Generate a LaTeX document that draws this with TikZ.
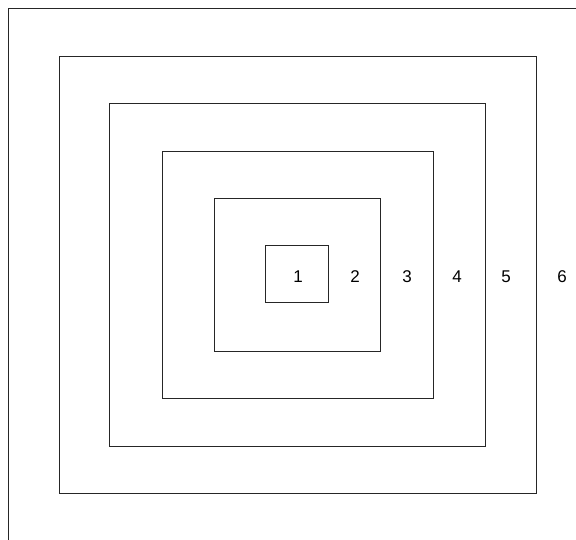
\documentclass[tikz,border=0pt]{standalone}
\usepackage{fontspec}
\setmainfont{Liberation Sans}
\begin{document}
\begin{tikzpicture}[x=1pt,y=-1pt,
  frame/.style={draw=black!85,line width=1pt},
  lab/.style={font=\fontsize{17}{20}\selectfont,inner sep=0pt}]
\useasboundingbox (0,0) rectangle (576,540);
\draw[frame] (576,9) -- (8,9) -- (8,540);
\draw[frame] (59,57) rectangle (536,493);
\draw[frame] (109,104) rectangle (485,446);
\draw[frame] (162,152) rectangle (433,398);
\draw[frame] (214,199) rectangle (380,351);
\draw[frame] (265,246) rectangle (328,303);
\node[lab] (n1) at (298,277) {1};
\node[lab] (n2) at (355,277) {2};
\node[lab] (n3) at (407,277) {3};
\node[lab] (n4) at (457,277) {4};
\node[lab] (n5) at (506,277) {5};
\node[lab] (n6) at (562,277) {6};
\end{tikzpicture}
\end{document}
